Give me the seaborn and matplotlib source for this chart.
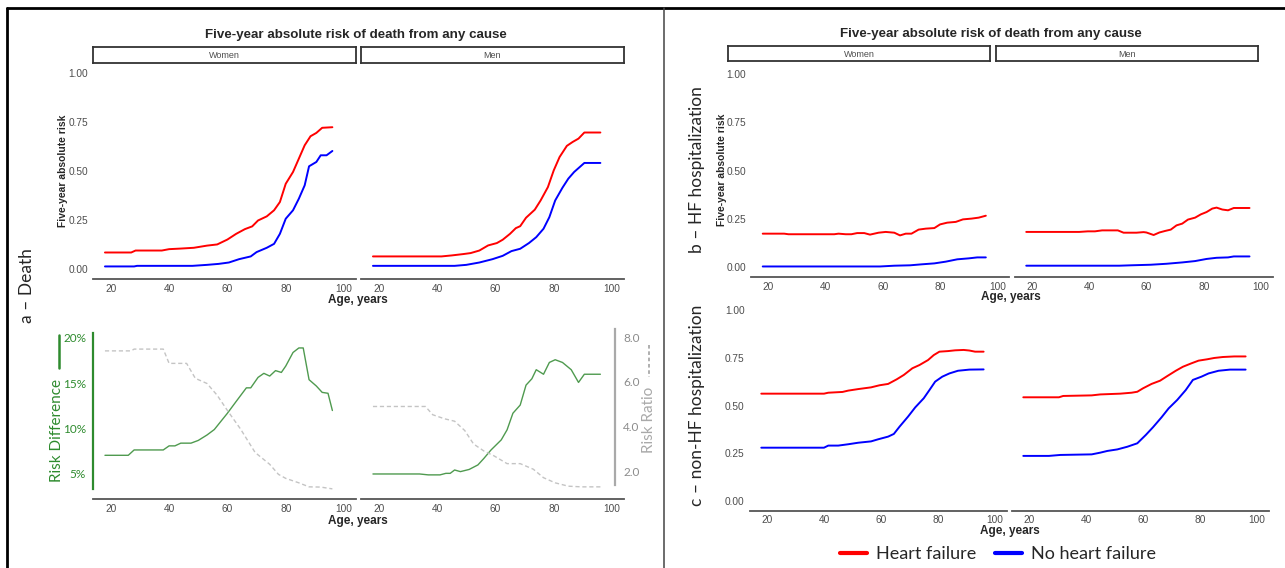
import numpy as np
import pandas as pd
import matplotlib.pyplot as plt
import seaborn as sns
from matplotlib.lines import Line2D

#%% data
# a - death, five-year absolute risk
a_w_hf_age = [18, 27, 28.5, 37.5, 40, 44, 48.5, 53, 56.5, 60, 63, 66, 68.5, 70.5, 73.5, 76, 78, 80, 82.5, 84.5, 86.5, 88.5, 90.5, 92.5, 96]
a_w_hf = [0.085, 0.085, 0.095, 0.095, 0.102, 0.105, 0.109, 0.12, 0.126, 0.151, 0.18, 0.204, 0.218, 0.248, 0.269, 0.30, 0.342, 0.435, 0.495, 0.563, 0.631, 0.677, 0.694, 0.72, 0.723]
a_w_no_age = [18, 28, 29, 48, 53, 57, 60.5, 64, 68, 70, 73.5, 76, 78, 80, 82.5, 84.5, 86.5, 88, 90.5, 92, 94, 96]
a_w_no = [0.014, 0.014, 0.017, 0.017, 0.022, 0.027, 0.034, 0.051, 0.065, 0.087, 0.109, 0.129, 0.18, 0.257, 0.30, 0.359, 0.427, 0.524, 0.546, 0.58, 0.58, 0.602]
a_m_hf_age = [18, 41.5, 45, 49, 51.5, 54.5, 57.5, 60.5, 62.5, 65, 67, 68.5, 70.5, 73.5, 75.5, 78, 80, 82, 84.5, 86.5, 88.5, 90.5, 96]
a_m_hf = [0.065, 0.065, 0.07, 0.077, 0.082, 0.095, 0.121, 0.133, 0.15, 0.18, 0.209, 0.219, 0.262, 0.303, 0.35, 0.418, 0.503, 0.571, 0.628, 0.648, 0.665, 0.696, 0.696]
a_m_no_age = [18, 46, 50, 54.5, 59, 62.5, 65.5, 68.5, 71.5, 74, 76.5, 78.5, 80.5, 83, 85, 87, 90.5, 96]
a_m_no = [0.017, 0.017, 0.022, 0.034, 0.051, 0.068, 0.092, 0.104, 0.133, 0.163, 0.206, 0.265, 0.35, 0.415, 0.461, 0.495, 0.541, 0.541]

# a - death, risk difference (%) and risk ratio
rd_w_age = [18, 26, 28, 38, 40, 42, 44, 47.5, 50, 53, 55.5, 60, 63, 66.5, 68, 70.5, 72.5, 74.5, 76.5, 78.5, 80, 82.5, 84.5, 86, 88, 90.5, 92.5, 94.5, 96]
rd_w = [7.06, 7.06, 7.65, 7.65, 8.1, 8.1, 8.4, 8.4, 8.7, 9.3, 9.9, 11.7, 13.0, 14.5, 14.5, 15.65, 16.1, 15.8, 16.4, 16.2, 16.9, 18.4, 18.9, 18.9, 15.4, 14.7, 14.0, 13.9, 12.0]
rr_w_age = [18, 27, 28, 38, 40, 46, 49, 53, 56.5, 60, 64.5, 69.5, 74.5, 77.5, 80, 84.5, 88, 92, 96]
rr_w = [7.38, 7.38, 7.46, 7.46, 6.82, 6.82, 6.15, 5.92, 5.39, 4.71, 3.88, 2.83, 2.30, 1.85, 1.67, 1.47, 1.29, 1.28, 1.2]
rd_m_age = [18, 34, 37, 41, 43, 44.5, 46, 48, 51, 54, 56, 58.5, 62, 64, 66, 68.5, 70.5, 72.5, 74, 76.5, 78.5, 80.5, 83, 86, 88.5, 90.5, 96]
rd_m = [5.0, 5.0, 4.9, 4.9, 5.07, 5.07, 5.44, 5.26, 5.5, 6.0, 6.7, 7.65, 8.76, 9.87, 11.7, 12.6, 14.8, 15.5, 16.5, 16.0, 17.3, 17.6, 17.3, 16.5, 15.1, 16.0, 16.0]
rr_m_age = [18, 36, 38.5, 42.5, 46, 49.5, 52.5, 56, 59.5, 64, 68.5, 73, 76.5, 80.5, 85, 89.5, 96]
rr_m = [4.89, 4.89, 4.52, 4.34, 4.23, 3.81, 3.21, 2.90, 2.68, 2.33, 2.33, 2.08, 1.70, 1.47, 1.32, 1.29, 1.29]

# b - HF hospitalization
b_w_hf_age = [18, 25.5, 27, 43, 44.5, 47, 49, 51, 53.5, 55.5, 58.5, 61, 64, 66, 68, 70, 72.5, 75, 78, 80, 82.5, 85.5, 88, 91, 93.5, 96]
b_w_hf = [0.173, 0.173, 0.170, 0.170, 0.173, 0.170, 0.170, 0.176, 0.176, 0.168, 0.178, 0.182, 0.178, 0.164, 0.173, 0.173, 0.194, 0.199, 0.202, 0.221, 0.230, 0.234, 0.247, 0.251, 0.256, 0.266]
b_w_no_age = [18, 59, 64, 69.5, 73.5, 78, 82, 86, 90, 93, 96]
b_w_no = [0.003, 0.003, 0.007, 0.009, 0.014, 0.019, 0.028, 0.04, 0.045, 0.05, 0.05]
b_m_hf_age = [18, 36.5, 39.5, 42, 44.5, 50, 52, 56.5, 59, 60, 62.5, 64.5, 66.5, 68.5, 70.5, 72.5, 74.5, 77, 79, 81, 83, 84.5, 86.5, 88.5, 90.5, 96]
b_m_hf = [0.182, 0.182, 0.185, 0.185, 0.19, 0.19, 0.178, 0.178, 0.181, 0.179, 0.166, 0.179, 0.187, 0.194, 0.216, 0.225, 0.246, 0.256, 0.273, 0.285, 0.303, 0.308, 0.298, 0.294, 0.306, 0.306]
b_m_no_age = [18, 50.5, 54.5, 61.5, 67, 72.5, 77, 81, 84.5, 88.5, 90.5, 96]
b_m_no = [0.007, 0.007, 0.009, 0.012, 0.017, 0.024, 0.031, 0.042, 0.048, 0.05, 0.055, 0.055]

# c - non-HF hospitalization
c_w_hf_age = [18, 40, 41.5, 46.5, 48.5, 52, 56.5, 59.5, 62.5, 65.5, 68, 71, 73.5, 76.5, 78.5, 80.5, 83.5, 86, 89, 91, 93, 96]
c_w_hf = [0.562, 0.562, 0.567, 0.571, 0.578, 0.586, 0.595, 0.606, 0.613, 0.637, 0.66, 0.695, 0.712, 0.738, 0.764, 0.782, 0.785, 0.789, 0.791, 0.788, 0.782, 0.782]
c_w_no_age = [18, 40, 41.5, 45, 48.5, 52, 56.5, 59, 62.5, 64.5, 66.5, 69.5, 72, 75, 77, 79, 81.5, 84, 87, 91, 96]
c_w_no = [0.279, 0.279, 0.29, 0.29, 0.297, 0.305, 0.312, 0.323, 0.337, 0.351, 0.389, 0.442, 0.49, 0.538, 0.581, 0.625, 0.651, 0.668, 0.682, 0.688, 0.689]
c_m_hf_age = [18, 30.5, 32, 42, 45, 52, 56, 58, 60, 63, 66, 68.5, 71.5, 74, 77, 79.5, 82.5, 85, 88, 92, 96]
c_m_hf = [0.543, 0.543, 0.55, 0.553, 0.558, 0.562, 0.567, 0.572, 0.59, 0.613, 0.63, 0.654, 0.682, 0.703, 0.721, 0.735, 0.742, 0.749, 0.754, 0.757, 0.757]
c_m_no_age = [18, 27, 31, 42, 45, 47.5, 51, 54.5, 58, 61, 63.5, 66.5, 69, 72, 75, 77.5, 80.5, 83, 86.5, 90.5, 96]
c_m_no = [0.236, 0.236, 0.241, 0.244, 0.253, 0.262, 0.27, 0.284, 0.302, 0.346, 0.386, 0.438, 0.485, 0.529, 0.581, 0.634, 0.651, 0.668, 0.682, 0.688, 0.688]

age_ticks = [20, 40, 60, 80, 100]
risk_ticks = [0, 0.25, 0.5, 0.75, 1.0]
rd_ticks = [5, 10, 15, 20]
rr_ticks = [2, 4, 6, 8]
title = 'Five-year absolute risk of death from any cause'

#%% setup
W, H = 1285, 568
sns.set_style('white')
plt.rcParams['font.family'] = ['DejaVu Sans']
NARROW = ['Liberation Sans Narrow', 'Liberation Sans', 'DejaVu Sans']
SANS = ['Lato', 'DejaVu Sans']
PAL = {'Heart failure': '#ff0000', 'No heart failure': '#0000ff'}
AXC = '#555555'
TXC = '#4d4d4d'
GREEN = '#2e8b2e'
GREY = '#a9a9a9'

fig = plt.figure(figsize=(W / 100, H / 100), dpi=100)


def box(x0, y0, x1, y1):
    return [x0 / W, 1 - y1 / H, (x1 - x0) / W, (y1 - y0) / H]


def ftext(x, y, s, **kw):
    kw.setdefault('ha', 'center')
    kw.setdefault('va', 'center')
    fig.text(x / W, 1 - y / H, s, **kw)


def fline(xs, ys, **kw):
    fig.add_artist(Line2D([x / W for x in xs], [1 - y / H for y in ys],
                          transform=fig.transFigure, **kw))


def risk_df(hf_age, hf, no_age, no):
    return pd.concat([
        pd.DataFrame({'age': hf_age, 'risk': hf, 'group': 'Heart failure'}),
        pd.DataFrame({'age': no_age, 'risk': no, 'group': 'No heart failure'}),
    ], ignore_index=True)


def x_axis(ax):
    ax.set_xlim(13.9, 104.1)
    ax.set_xticks(age_ticks)
    ax.set_xticklabels([str(t) for t in age_ticks], fontfamily=NARROW)
    ax.spines['bottom'].set_color(AXC)
    ax.spines['bottom'].set_linewidth(1.3)
    ax.tick_params(axis='x', length=2.5, width=0.8, color=AXC, pad=1,
                   labelsize=7.3, labelcolor=TXC)
    ax.set_xlabel('')
    ax.patch.set_alpha(0)


def facet(rect, df, show_y):
    ax = fig.add_axes(rect)
    sns.lineplot(data=df, x='age', y='risk', hue='group', palette=PAL,
                 lw=1.4, errorbar=None, legend=False, ax=ax)
    x_axis(ax)
    ax.set_ylim(-0.05, 1.05)
    ax.set_yticks(risk_ticks)
    ax.set_yticklabels([f'{t:.2f}' for t in risk_ticks], fontfamily=NARROW)
    ax.set_ylabel('')
    for s in ['top', 'right', 'left']:
        ax.spines[s].set_visible(False)
    ax.tick_params(axis='y', length=2.5, width=0.8, color=AXC, pad=1,
                   labelsize=7.3, labelcolor=TXC)
    if not show_y:
        ax.tick_params(axis='y', left=False, labelleft=False)
    return ax


def strip(rect, label):
    ax = fig.add_axes(rect)
    ax.set_xticks([])
    ax.set_yticks([])
    for s in ax.spines.values():
        s.set_color('#333333')
        s.set_linewidth(1.3)
    ax.text(0.5, 0.45, label, ha='center', va='center', fontsize=6.5,
            color=TXC, fontfamily=NARROW, transform=ax.transAxes)


def ratio_facet(rect, rd_age, rd, rr_age, rr, left_axis, right_axis):
    ax = fig.add_axes(rect)
    sns.lineplot(x=rd_age, y=rd, color='#4f9a4f', lw=1.0, ax=ax)
    x_axis(ax)
    ax.set_ylim(2.24, 20.99)
    for s in ['top', 'right']:
        ax.spines[s].set_visible(False)
    tw = ax.twinx()
    sns.lineplot(x=rr_age, y=rr, color='#c4c4c4', lw=1.0,
                 linestyle=(0, (3, 2)), ax=tw)
    tw.set_ylim(0.746, 8.36)
    for s in tw.spines.values():
        s.set_visible(False)
    tw.set_ylabel('')
    ax.set_ylabel('')
    if left_axis:
        ax.spines['left'].set_bounds(3.35, 20.55)
        ax.spines['left'].set_color(GREEN)
        ax.spines['left'].set_linewidth(1.6)
        ax.set_yticks(rd_ticks)
        ax.set_yticklabels([f'{t}%' for t in rd_ticks], fontfamily=SANS)
        ax.tick_params(axis='y', length=0, pad=5, labelsize=8.5,
                       labelcolor=GREEN)
    else:
        ax.spines['left'].set_visible(False)
        ax.tick_params(axis='y', left=False, labelleft=False)
    if right_axis:
        sp = tw.spines['right']
        sp.set_visible(True)
        sp.set_position(('axes', 0.966))
        sp.set_bounds(1.37, 8.36)
        sp.set_color(GREY)
        sp.set_linewidth(1.6)
        tw.set_yticks(rr_ticks)
        tw.set_yticklabels([f'{t:.1f}' for t in rr_ticks], fontfamily=SANS)
        tw.tick_params(axis='y', length=0, pad=6, labelsize=8.5,
                       labelcolor='#8c8c8c')
    else:
        tw.tick_params(axis='y', right=False, labelright=False)
    return ax


#%% panel a
ftext(356, 35, title, fontsize=9.6, fontweight='bold', fontfamily=NARROW)
strip(box(93, 47, 356, 63), 'Women')
strip(box(361, 47, 624, 63), 'Men')
facet(box(93, 63, 356, 279), risk_df(a_w_hf_age, a_w_hf, a_w_no_age, a_w_no), True)
facet(box(361, 63, 624, 279), risk_df(a_m_hf_age, a_m_hf, a_m_no_age, a_m_no), False)
ftext(63, 171, 'Five-year absolute risk', rotation=90, fontsize=7.4,
      fontweight='bold', fontfamily=['Liberation Sans', 'DejaVu Sans'])
ftext(358, 300, 'Age, years', fontsize=8.5, fontweight='bold', fontfamily=NARROW)

ratio_facet(box(93, 329, 356, 499), rd_w_age, rd_w, rr_w_age, rr_w, True, False)
ratio_facet(box(361, 329, 624, 499), rd_m_age, rd_m, rr_m_age, rr_m, False, True)
ftext(358, 521, 'Age, years', fontsize=8.5, fontweight='bold', fontfamily=NARROW)
ftext(57, 430, 'Risk Difference', rotation=90, fontsize=11, color=GREEN, fontfamily=SANS)
fline([59, 59], [335, 368], color=GREEN, lw=1.8)
ftext(649, 420, 'Risk Ratio', rotation=90, fontsize=11, color=GREY, fontfamily=SANS)
fline([649, 649], [345, 377], color=GREY, lw=1.3, linestyle=(0, (2, 1.5)))
ftext(27, 286, 'a – Death', rotation=90, fontsize=12.5, fontfamily=SANS)

#%% panels b and c
ftext(991, 34, title, fontsize=9.6, fontweight='bold', fontfamily=NARROW)
strip(box(728, 46, 990, 61), 'Women')
strip(box(996, 46, 1258, 61), 'Men')
facet(box(751, 64.4, 1009, 276.7), risk_df(b_w_hf_age, b_w_hf, b_w_no_age, b_w_no), True)
facet(box(1014.5, 64.4, 1272.7, 276.7), risk_df(b_m_hf_age, b_m_hf, b_m_no_age, b_m_no), False)
ftext(722, 170, 'Five-year absolute risk', rotation=90, fontsize=7.4,
      fontweight='bold', fontfamily=['Liberation Sans', 'DejaVu Sans'])
ftext(1011, 297, 'Age, years', fontsize=8.5, fontweight='bold', fontfamily=NARROW)

facet(box(749.6, 300.5, 1006.7, 510.5), risk_df(c_w_hf_age, c_w_hf, c_w_no_age, c_w_no), True)
facet(box(1011.6, 300.5, 1268.7, 510.5), risk_df(c_m_hf_age, c_m_hf, c_m_no_age, c_m_no), False)
ftext(1010, 531, 'Age, years', fontsize=8.5, fontweight='bold', fontfamily=NARROW)

ftext(697, 170, 'b – HF hospitalization', rotation=90, fontsize=12.5, fontfamily=SANS)
ftext(697, 405, 'c – non-HF hospitalization', rotation=90, fontsize=12.5, fontfamily=SANS)

handles = [Line2D([], [], color=c, lw=3) for c in PAL.values()]
fig.legend(handles, list(PAL.keys()), loc='center', ncol=2,
           bbox_to_anchor=(998 / W, 1 - 554 / H), frameon=False,
           prop={'family': SANS, 'size': 13}, handlelength=1.5,
           handletextpad=0.5, columnspacing=1.0)

#%% frame
fline([7, 1285], [8, 8], color='black', lw=2)
fline([7, 7], [8, 568], color='black', lw=2)
fline([664, 664], [8, 568], color='#444444', lw=1.1)

fig.savefig('out.png', dpi=100)
